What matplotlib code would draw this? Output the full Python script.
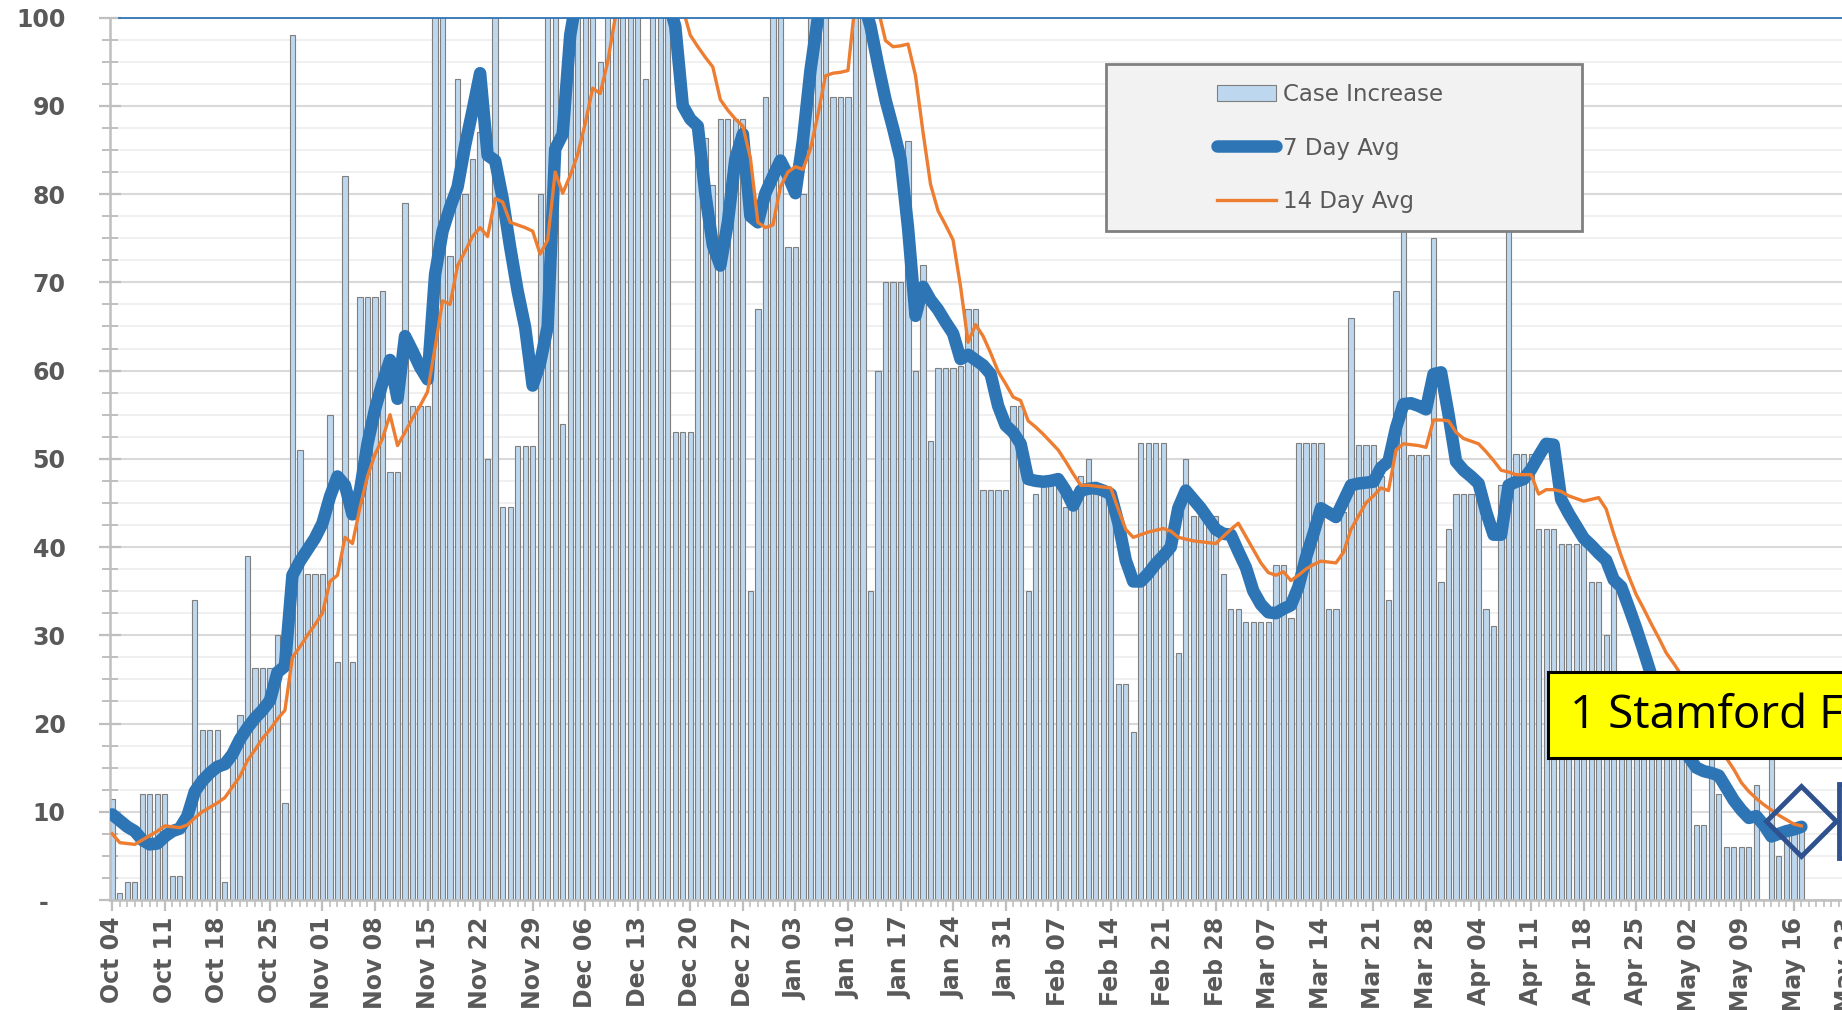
import numpy as np
import pandas as pd
import matplotlib
matplotlib.use("Agg")
import matplotlib.pyplot as plt
from matplotlib.patches import Rectangle
from matplotlib.ticker import MultipleLocator

# daily case increase, Oct 04 onwards (values above 100 run off the chart)
start = "2020-10-04"
cases = [
    11.4, 0.8, 2, 2, 12, 12, 12, 12, 2.7, 2.7,
    9, 34, 19.3, 19.3, 19.3, 2, 16, 21, 39, 26.3,
    26.3, 26.3, 30, 11, 98, 51, 37, 37, 37, 55,
    27, 82, 27, 68.3, 68.3, 68.3, 69, 48.5, 48.5, 79,
    56, 56, 56, 115, 115, 73, 93, 80, 84, 87,
    50, 115, 44.5, 44.5, 51.5, 51.5, 51.5, 80, 115, 115,
    54, 115, 115, 115, 115, 95, 115, 115, 115, 115,
    115, 93, 115, 115, 115, 53, 53, 53, 88, 86.3,
    81, 88.5, 88.5, 88.5, 88.5, 35, 67, 91, 115, 115,
    74, 74, 80, 115, 115, 115, 91, 91, 91, 115,
    115, 35, 60, 70, 70, 70, 86, 60, 72, 52,
    60.3, 60.3, 60.3, 60.5, 67, 67, 46.5, 46.5, 46.5, 46.5,
    56, 56, 35, 46, 47, 47, 47.5, 44.5, 44.5, 48,
    50, 46, 46, 46.5, 24.5, 24.5, 19, 51.8, 51.8, 51.8,
    51.8, 40, 28, 50, 43.5, 43.5, 42.5, 43.5, 37, 33,
    33, 31.5, 31.5, 31.5, 31.5, 38, 38, 32, 51.8, 51.8,
    51.8, 51.8, 33, 33, 44, 66, 51.6, 51.6, 51.6, 48,
    34, 69, 85, 50.4, 50.4, 50.4, 75, 36, 42, 46,
    46, 46, 46, 33, 31, 47, 85, 50.5, 50.5, 50.5,
    42, 42, 42, 40.3, 40.3, 40.3, 40.3, 36, 36, 30,
    36, 22, 24, 20, 23, 19, 21, 18, 20, 17,
    18, 8.5, 8.5, 16, 12, 6, 6, 6, 6, 13,
    0, 16, 5, 8, 8, 8.2,
]

avg7 = [
    9.7, 9.0, 8.3, 7.8, 6.8, 6.3, 6.4, 7.2, 7.8, 8.1,
    9.5, 12.3, 13.5, 14.4, 15.1, 15.4, 16.5, 18.2, 19.5, 20.6,
    21.5, 22.6, 25.8, 26.5, 36.8, 38.4, 39.7, 41, 42.7, 45.7,
    48, 47, 43.7, 46.4, 51.7, 55.6, 58.6, 61.2, 56.8, 63.9,
    62.2, 60.4, 59, 70.9, 75.8, 78.5, 80.8, 85.5, 89.5, 93.7,
    84.4, 83.8, 79.5, 74, 69, 64.9, 58.3, 60.9, 65, 85.1,
    86.8, 98, 103, 106, 110, 112, 114, 115, 116, 116,
    115, 113, 110, 106, 102, 99, 90, 88.5, 87.7, 80,
    74.2, 71.9, 76.8, 84, 86.8, 77.5, 76.8, 80.1, 82, 83.8,
    82.1, 80.1, 86.1, 94, 100, 104, 107, 108, 107, 105,
    102, 99, 94.7, 90.7, 87.5, 84, 76.2, 66.2, 69.5, 68,
    66.9, 65.5, 64.2, 61.3, 61.8, 61.2, 60.6, 59.6, 56, 53.8,
    53, 51.7, 47.7, 47.5, 47.4, 47.5, 47.7, 46.4, 44.7, 46.4,
    46.6, 46.7, 46.4, 46, 42.8, 38.5, 36.1, 36.1, 37, 38.1,
    39, 40, 44.4, 46.4, 45.4, 44.4, 43.2, 42, 41.5, 41.4,
    39.5, 37.7, 35, 33.5, 32.6, 32.5, 33, 33.4, 35.5, 38.8,
    41.5, 44.4, 43.9, 43.4, 45.2, 47, 47.2, 47.3, 47.4, 49,
    49.7, 53.5, 56.2, 56.3, 56, 55.6, 59.6, 59.8, 55, 49.7,
    48.7, 48, 47.2, 44, 41.4, 41.4, 47, 47.4, 47.7, 48.8,
    50.3, 51.7, 51.6, 45.4, 43.8, 42.4, 41, 40.2, 39.3, 38.5,
    36.3, 35.5, 33.2, 30.8, 28.2, 25.5, 23.3, 21.2, 19.3, 17.6,
    16.2, 15, 14.6, 14.4, 14.1, 12.7, 11.3, 10.2, 9.3, 9.5,
    8.5, 7.2, 7.5, 7.8, 8.0, 8.3,
]

avg14 = [
    7.5, 6.5, 6.4, 6.3, 6.8, 7.3, 7.8, 8.4, 8.3, 8.2,
    8.5, 9.3, 10, 10.5, 11, 11.6, 12.8, 14, 15.8, 17,
    18.3, 19.3, 20.5, 21.5, 27.5, 28.7, 30, 31.2, 32.5, 36.1,
    36.8, 41.1, 40.4, 44.5, 48, 50.5, 52.3, 55, 51.5, 53,
    54.6, 56, 57.6, 62.6, 67.9, 67.5, 71.9, 73.5, 75.2, 76.2,
    75.2, 79.5, 79.1, 76.8, 76.5, 76.2, 75.8, 73.2, 74.8, 82.5,
    80.1, 82.1, 84.5, 88, 92, 91.4, 95, 100, 103, 106,
    108, 109, 109, 108, 106, 104, 101, 98, 96.7, 95.5,
    94.4, 90.7, 89.5, 88.5, 87.7, 84.1, 76.8, 76.2, 76.5, 80.8,
    82.5, 83.1, 82.8, 85.1, 89, 93.4, 93.7, 93.8, 94, 102,
    103, 103, 101, 97.4, 96.7, 96.8, 97, 93.4, 87, 81.1,
    78.1, 76.5, 74.8, 69.5, 63.2, 65.2, 63.9, 62, 59.9, 58.5,
    57, 56.6, 54.3, 53.6, 52.8, 51.9, 51, 49.7, 48.3, 47,
    47, 46.9, 46.8, 46.7, 44.3, 42, 41.1, 41.4, 41.7, 41.9,
    42.1, 41.8, 41.1, 40.9, 40.7, 40.6, 40.5, 40.4, 41.2, 42,
    42.7, 41.2, 39.7, 38.2, 37.1, 36.8, 37.2, 36.2, 36.8, 37.5,
    38, 38.4, 38.3, 38.2, 39.4, 42, 43.5, 45, 45.8, 46.7,
    46.4, 51, 51.7, 51.6, 51.5, 51.3, 54.4, 54.4, 54.3, 53,
    52.3, 52, 51.7, 50.8, 49.8, 48.7, 48.5, 48.2, 48.2, 48.2,
    46, 46.5, 46.5, 46.3, 45.8, 45.5, 45.2, 45.4, 45.6, 44.3,
    41.5, 39, 36.7, 34.6, 33, 31.3, 29.7, 28, 26.8, 25.5,
    23.8, 22, 20.3, 18.7, 17.3, 16.1, 14.8, 13.3, 12.3, 11.5,
    10.8, 10.2, 9.6, 9.1, 8.6, 8.4,
]

# annotation markers near the right edge (day index, value)
diamond_day = [225]
diamond_val = [9]
square_day = [234.9]
square_val = [9]
note_text = "1 Stamford F"

W, H = 1842, 1010


def fx(px):
    return px / W


def fy(py):
    return 1 - py / H


days = np.arange(len(cases))
n_weeks = 34
tick_days = np.arange(0, n_weeks * 7, 7)
tick_labels = pd.date_range(start, periods=n_weeks, freq="7D").strftime("%b %d")

fig = plt.figure(figsize=(W / 100, H / 100), dpi=100)
ax = fig.add_axes([fx(110), fy(900), (1914 - 110) / W, (900 - 17.6) / H])

bars = ax.bar(days, cases, width=0.7, color="#BDD7EE", edgecolor="#7F7F7F",
              linewidth=0.8, label="Case Increase", zorder=2)
l7, = ax.plot(days, avg7, color="#2E75B6", lw=9, solid_capstyle="round",
              solid_joinstyle="round", label="7 Day Avg", zorder=3)
l14, = ax.plot(days, avg14, color="#ED7D31", lw=2.4, label="14 Day Avg", zorder=4)
ax.axhline(100, xmin=0.005, color="#2E75B6", lw=1.3, clip_on=False, zorder=5)

ax.plot(diamond_day, diamond_val, ls="none", marker="D", ms=36, mfc="none",
        mec="#2F528F", mew=3.5, clip_on=False, zorder=6)
ax.plot(square_day, square_val, ls="none", marker="s", ms=53, mfc="none",
        mec="#2F528F", mew=3.5, clip_on=False, zorder=6)

ax.set_xlim(-0.3, 240)
ax.set_ylim(0, 100)

# y axis
yt = np.arange(0, 101, 10)
ax.set_yticks(yt, ["-  " if v == 0 else str(v) for v in yt],
              fontweight="bold", fontsize=17, color="#595959")
ax.yaxis.set_minor_locator(MultipleLocator(2.5))
ax.tick_params(axis="y", which="major", direction="inout", length=16, width=1.6,
               color="#BFBFBF", pad=24)
ax.tick_params(axis="y", which="minor", direction="inout", length=12, width=1.4,
               color="#BFBFBF")
ax.grid(axis="y", which="major", color="#D9D9D9", lw=1.5)
ax.grid(axis="y", which="minor", color="#EDEDED", lw=1.2)
ax.set_axisbelow(True)

# x axis
ax.set_xticks(tick_days, tick_labels, rotation=90, fontweight="bold",
              fontsize=17, color="#595959")
ax.set_xticks(np.arange(0, 241), minor=True)
ax.tick_params(axis="x", which="major", direction="out", length=8, width=1.6,
               color="#BFBFBF", pad=4)
ax.tick_params(axis="x", which="minor", direction="out", length=5, width=1.2,
               color="#BFBFBF")

for s in ["top", "right"]:
    ax.spines[s].set_visible(False)
for s in ["left", "bottom"]:
    ax.spines[s].set_color("#BFBFBF")
    ax.spines[s].set_linewidth(1.8)

# legend box
fig.patches.append(Rectangle((fx(1106), fy(231)), (1582 - 1106) / W, (231 - 64) / H,
                             transform=fig.transFigure, facecolor="#F2F2F2",
                             edgecolor="#808080", lw=2, zorder=2))
fig.legend([bars, l7, l14], ["Case Increase", "7 Day Avg", "14 Day Avg"],
           loc="center", bbox_to_anchor=(fx(1330), fy(148)), frameon=False,
           fontsize=16.5, handlelength=2.6, handletextpad=0.3,
           labelspacing=1.35, labelcolor="#595959")

# yellow note
fig.patches.append(Rectangle((fx(1548), fy(758)), (1900 - 1548) / W, (758 - 672) / H,
                             transform=fig.transFigure, facecolor="#FFFF00",
                             edgecolor="black", lw=2.2, zorder=3))
fig.text(fx(1570), fy(716), note_text, fontsize=33, family="Open Sans",
         va="center", ha="left", color="black", zorder=4)

fig.savefig("out.png", dpi=100)
